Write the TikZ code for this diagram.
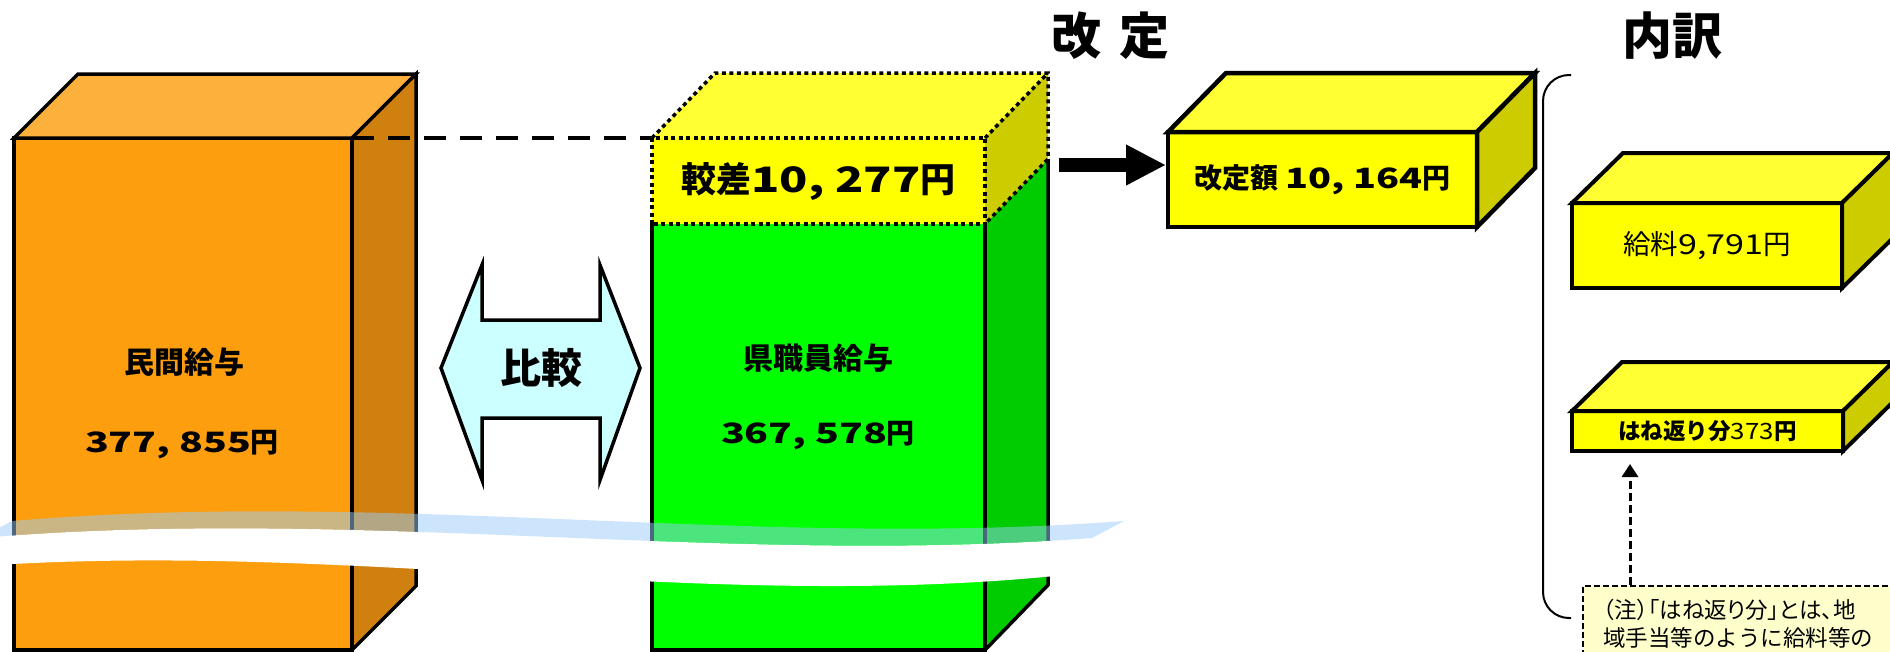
\documentclass[tikz,border=0pt]{standalone}
\usepackage{fontspec}
\usepackage{graphicx}
\setmainfont{Noto Sans CJK JP}
\usetikzlibrary{arrows.meta}
\definecolor{orF}{RGB}{252,158,14}
\definecolor{orT}{RGB}{253,176,60}
\definecolor{orS}{RGB}{207,128,14}
\definecolor{grF}{RGB}{0,255,0}
\definecolor{grS}{RGB}{0,204,0}
\definecolor{yeF}{RGB}{255,255,0}
\definecolor{yeT}{RGB}{255,255,51}
\definecolor{yeS}{RGB}{204,204,0}
\definecolor{cyF}{RGB}{204,255,255}
\definecolor{noteF}{RGB}{255,255,204}
\definecolor{brk}{RGB}{153,204,250}
\newcommand{\setfs}[1]{\fontsize{#1pt}{#1pt}\selectfont}
\newcommand{\wdig}[2]{\scalebox{#1}[1]{#2}}
\tikzset{
  face/.style={inner sep=0pt, outer sep=0pt},
  edge/.style={draw=black, line width=3.5pt, line join=miter},
  dotedge/.style={draw=black, line width=3.5pt, dash pattern=on 4pt off 3.5pt},
  lbl/.style={inner sep=0pt, outer sep=0pt, font=\setfs{30}\bfseries},
  numlbl/.style={inner sep=0pt, outer sep=0pt, font=\setfs{28}\bfseries},
  dashln/.style={draw=black, line width=4pt, dash pattern=on 22pt off 14pt},
  heading/.style={inner sep=0pt, font=\setfs{50}\bfseries},
}
\begin{document}
\begin{tikzpicture}[x=1pt,y=-1pt]
\useasboundingbox (0,0) rectangle (1890,651);
\begin{scope}
\clip (0,0) rectangle (1890,651);

% ---------- orange box (private salary)
\node[face, edge, fill=orF, minimum width=338, minimum height=512] (priv) at (183,394) {};
\filldraw[edge, fill=orT] (priv.north west) -- ([shift={(64,-64)}]priv.north west) -- ([shift={(64,-64)}]priv.north east) -- (priv.north east) -- cycle;
\filldraw[edge, fill=orS] (priv.north east) -- ([shift={(64,-64)}]priv.north east) -- ([shift={(64,-64)}]priv.south east) -- (priv.south east) -- cycle;
\node[lbl] (privname) at (184,362) {民間給与};
\node[numlbl] (privval) at (182,445) {\wdig{1.4}{377, 855}円};

% ---------- green box (prefecture staff salary)
\node[face, fill=grF, minimum width=333, minimum height=426] (staff) at (818.5,437) {};
\fill[grS] (staff.north east) -- ([shift={(63,-65)}]staff.north east) -- ([shift={(63,-65)}]staff.south east) -- (staff.south east) -- cycle;
\draw[edge] (staff.north west) -- (staff.south west) -- (staff.south east) -- (staff.north east);
\draw[edge] (staff.south east) -- ([shift={(63,-65)}]staff.south east) -- ([shift={(63,-65)}]staff.north east);
\node[lbl] (staffname) at (818,358) {県職員給与};
\node[numlbl] (staffval) at (818,436) {\wdig{1.4}{367, 578}円};

% ---------- difference block (dotted)
\node[face, fill=yeF, minimum width=333, minimum height=86, font=\setfs{35}\bfseries] (diff) at (818.5,181) {較差\wdig{1.33}{10, 277}円};
\fill[yeT] (diff.north west) -- ([shift={(63,-65)}]diff.north west) -- ([shift={(63,-65)}]diff.north east) -- (diff.north east) -- cycle;
\fill[yeS] (diff.north east) -- ([shift={(63,-65)}]diff.north east) -- ([shift={(63,-65)}]diff.south east) -- (diff.south east) -- cycle;
\draw[dotedge] (diff.south west) rectangle (diff.north east);
\draw[dotedge] (diff.north west) -- ([shift={(63,-65)}]diff.north west) -- ([shift={(63,-65)}]diff.north east) -- ([shift={(63,-65)}]diff.south east) -- (diff.south east);
\draw[dotedge] (diff.north east) -- ([shift={(63,-65)}]diff.north east);

% ---------- dashed level line
\draw[dashln] (priv.north east) -- (diff.north west);

% ---------- break band
\fill[white] (-20,538) .. controls (360,506) and (720,566) .. (1092,538) -- (1092,572) .. controls (720,616) and (360,540) .. (-20,566) -- cycle;
\fill[brk, opacity=0.5] (-20,538) .. controls (360,506) and (720,566) .. (1092,538) -- (1124,521) .. controls (752,549) and (392,489) .. (12,521) -- cycle;

% ---------- comparison double arrow
\filldraw[line width=3.5pt, fill=cyF, line join=miter] (441,368) -- (482,265) -- (482,320) -- (600,320) -- (600,265) -- (640,368) -- (600,480) -- (600,418) -- (482,418) -- (482,480) -- cycle;
\node[inner sep=0pt, font=\setfs{41}\bfseries] (cmp) at (541,368) {比較};

% ---------- revision box
\node[face, draw=black, line width=4.5pt, fill=yeF, minimum width=309, minimum height=95, font=\setfs{28}\bfseries] (kai) at (1322.5,179.5) {改定額 \wdig{1.35}{10, 164}円};
\filldraw[line width=4.5pt, fill=yeT] (kai.north west) -- ([shift={(58,-59)}]kai.north west) -- ([shift={(58,-59)}]kai.north east) -- (kai.north east) -- cycle;
\filldraw[line width=4.5pt, fill=yeS] (kai.north east) -- ([shift={(58,-59)}]kai.north east) -- ([shift={(58,-59)}]kai.south east) -- (kai.south east) -- cycle;

% ---------- big arrow
\coordinate (arrS) at (1059,165);
\draw[line width=14pt, -{Triangle[length=40pt,width=38pt]}, shorten >=2pt] (arrS) -- (kai.west |- arrS);

% ---------- headings
\node[heading] (hkai) at (1110,36) {改\hspace{18pt}定};
\node[heading] (hbrk) at (1672,36) {内訳};

% ---------- bracket
\coordinate (brT) at (1571,75);
\coordinate (brB) at (1571,618);
\draw[line width=2pt, rounded corners=26pt] (brT) -- (1543,75) -- (1543,618) -- (brB);

% ---------- salary box
\node[face, draw=black, line width=4pt, fill=yeF, minimum width=270, minimum height=85, font=\setfs{27.5}] (sal) at (1707,245.5) {給料\wdig{1.24}{9,791}円};
\filldraw[line width=4pt, fill=yeT] (sal.north west) -- ([shift={(51,-50)}]sal.north west) -- ([shift={(51,-50)}]sal.north east) -- (sal.north east) -- cycle;
\filldraw[line width=4pt, fill=yeS] (sal.north east) -- ([shift={(51,-50)}]sal.north east) -- ([shift={(51,-50)}]sal.south east) -- (sal.south east) -- cycle;

% ---------- rebound box
\node[face, draw=black, line width=4pt, fill=yeF, minimum width=271, minimum height=40, font=\setfs{22.5}] (hane) at (1707.5,431) {{\bfseries はね返り分}\wdig{1.15}{373}{\bfseries 円}};
\filldraw[line width=4pt, fill=yeT] (hane.north west) -- ([shift={(50,-49)}]hane.north west) -- ([shift={(50,-49)}]hane.north east) -- (hane.north east) -- cycle;
\filldraw[line width=4pt, fill=yeS] (hane.north east) -- ([shift={(50,-49)}]hane.north east) -- ([shift={(50,-49)}]hane.south east) -- (hane.south east) -- cycle;

% ---------- note
\node[draw=black, line width=2pt, dash pattern=on 6pt off 3pt, fill=noteF, anchor=north west, minimum width=340, minimum height=120, inner sep=0pt] (note) at (1582,585) {};
\node[anchor=west, inner sep=0pt, font=\setfs{22.5}] (note1) at (1603,610) {\addfontfeature{RawFeature=+palt}（注）「はね返り分」とは、地};
\node[anchor=west, inner sep=0pt, font=\setfs{22.5}] (note2) at (1603,638) {域手当等のように給料等の};
\coordinate (arrX) at (1630,0);
\draw[line width=3pt, dash pattern=on 8pt off 4pt, -{Triangle[length=13pt,width=16pt]}, shorten >=13pt] (note.north -| arrX) -- (hane.south -| arrX);
\end{scope}
\end{tikzpicture}
\end{document}
